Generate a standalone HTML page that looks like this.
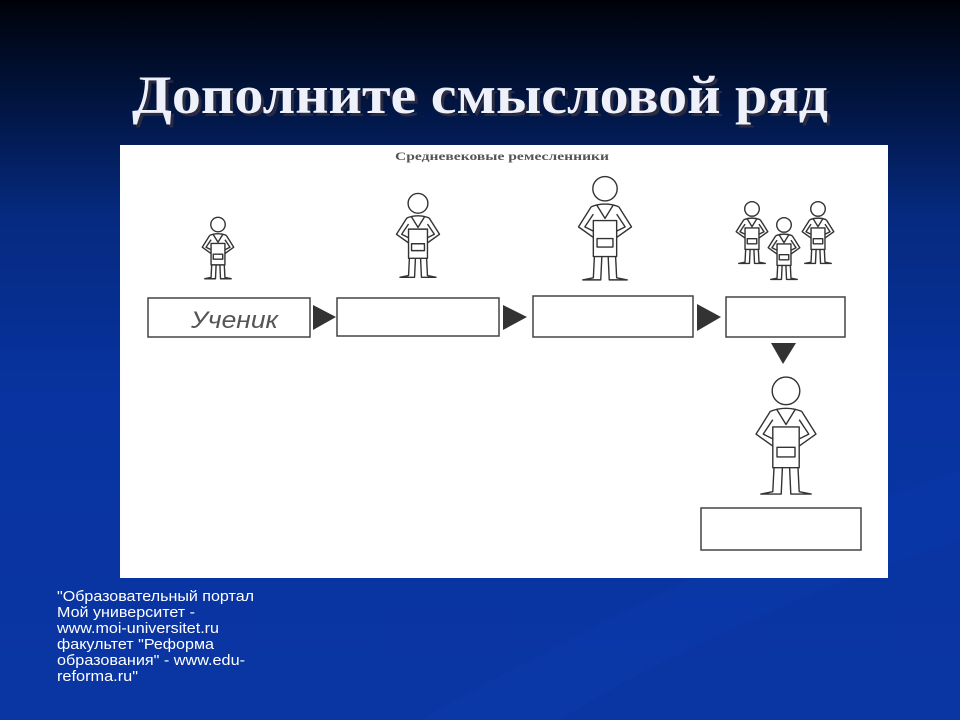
<!DOCTYPE html>
<html><head><meta charset="utf-8"><style>
html,body{margin:0;padding:0;width:960px;height:720px;overflow:hidden}
</style></head><body>
<svg width="960" height="720" viewBox="0 0 960 720" xmlns="http://www.w3.org/2000/svg">
<defs>
<linearGradient id="bg" x1="0" y1="0" x2="0" y2="1">
<stop offset="0" stop-color="#000108"/>
<stop offset="0.02" stop-color="#000510"/>
<stop offset="0.12" stop-color="#011238"/>
<stop offset="0.3" stop-color="#052a80"/>
<stop offset="0.55" stop-color="#0833a0"/>
<stop offset="1" stop-color="#0a36a4"/>
</linearGradient>
<symbol id="man" viewBox="-30 0 60 100" overflow="visible">
<g fill="none" stroke="#333" stroke-width="1.4" vector-effect="non-scaling-stroke" stroke-linejoin="round">
<circle cx="0" cy="12" r="11.5" vector-effect="non-scaling-stroke"/>
<path vector-effect="non-scaling-stroke" d="M-13,29 Q0,24 13,29"/>
<path vector-effect="non-scaling-stroke" d="M-8,27 L0,40 L8,27"/>
<rect vector-effect="non-scaling-stroke" x="-11" y="42" width="22" height="34"/>
<rect vector-effect="non-scaling-stroke" x="-7.5" y="59" width="15" height="8"/>
<path vector-effect="non-scaling-stroke" d="M-13,29 L-25,48 L-11,58"/>
<path vector-effect="non-scaling-stroke" d="M-11,36 L-19,48 L-11,52"/>
<path vector-effect="non-scaling-stroke" d="M13,29 L25,48 L11,58"/>
<path vector-effect="non-scaling-stroke" d="M11,36 L19,48 L11,52"/>
<path vector-effect="non-scaling-stroke" d="M-10,76 L-11,96 L-21,98 L-4,98 L-3,76"/>
<path vector-effect="non-scaling-stroke" d="M10,76 L11,96 L21,98 L4,98 L3,76"/>
</g>
</symbol>
</defs>
<rect width="960" height="720" fill="url(#bg)"/>
<path d="M420,720 Q700,560 960,470 L960,540 Q720,620 560,720 Z" fill="#0c3cb0" opacity="0.35"/>
<text x="480" y="113" text-anchor="middle" font-family="Liberation Serif, serif" font-weight="bold" font-size="54" fill="#2a2a40" textLength="696" lengthAdjust="spacingAndGlyphs" transform="translate(3,3)">Дополните смысловой ряд</text>
<text x="480" y="113" text-anchor="middle" font-family="Liberation Serif, serif" font-weight="bold" font-size="54" fill="#eef0fa" textLength="696" lengthAdjust="spacingAndGlyphs">Дополните смысловой ряд</text>
<rect x="120" y="145" width="768" height="433" fill="#ffffff"/>
<text x="395" y="160" font-family="Liberation Serif, serif" font-weight="bold" font-size="12" fill="#555" textLength="214" lengthAdjust="spacingAndGlyphs">Средневековые ремесленники</text>
<g fill="none" stroke="#444" stroke-width="1.5">
<rect x="148" y="298" width="162" height="39"/>
<rect x="337" y="298" width="162" height="38"/>
<rect x="533" y="296" width="160" height="41"/>
<rect x="726" y="297" width="119" height="40"/>
<rect x="701" y="508" width="160" height="42"/>
</g>
<g fill="#333">
<polygon points="313,305 313,330 336,317"/>
<polygon points="503,305 503,330 527,317"/>
<polygon points="697,304 697,331 721,317"/>
<polygon points="771,343 796,343 783,364"/>
</g>
<text x="191" y="328" font-family="Liberation Sans, sans-serif" font-style="italic" font-size="24" fill="#555" textLength="87" lengthAdjust="spacingAndGlyphs">Ученик</text>
<use href="#man" x="199" y="217" width="38" height="63"/>
<use href="#man" x="392" y="193" width="52" height="86"/>
<use href="#man" x="573" y="176" width="64" height="106"/>
<use href="#man" x="733" y="201" width="38" height="64"/>
<use href="#man" x="799" y="201" width="38" height="64"/>
<use href="#man" x="765" y="217" width="38" height="64"/>
<use href="#man" x="750" y="376" width="72" height="121"/>
<g font-family="Liberation Sans, sans-serif" font-size="15" fill="#ffffff" lengthAdjust="spacingAndGlyphs">
<text x="57" y="601" textLength="197" lengthAdjust="spacingAndGlyphs">"Образовательный портал</text>
<text x="57" y="617" textLength="138" lengthAdjust="spacingAndGlyphs">Мой университет -</text>
<text x="57" y="633" textLength="162" lengthAdjust="spacingAndGlyphs">www.moi-universitet.ru</text>
<text x="57" y="649" textLength="157" lengthAdjust="spacingAndGlyphs">факультет "Реформа</text>
<text x="57" y="665" textLength="188" lengthAdjust="spacingAndGlyphs">образования" - www.edu-</text>
<text x="57" y="681" textLength="81" lengthAdjust="spacingAndGlyphs">reforma.ru"</text>
</g>
</svg>
</body></html>
